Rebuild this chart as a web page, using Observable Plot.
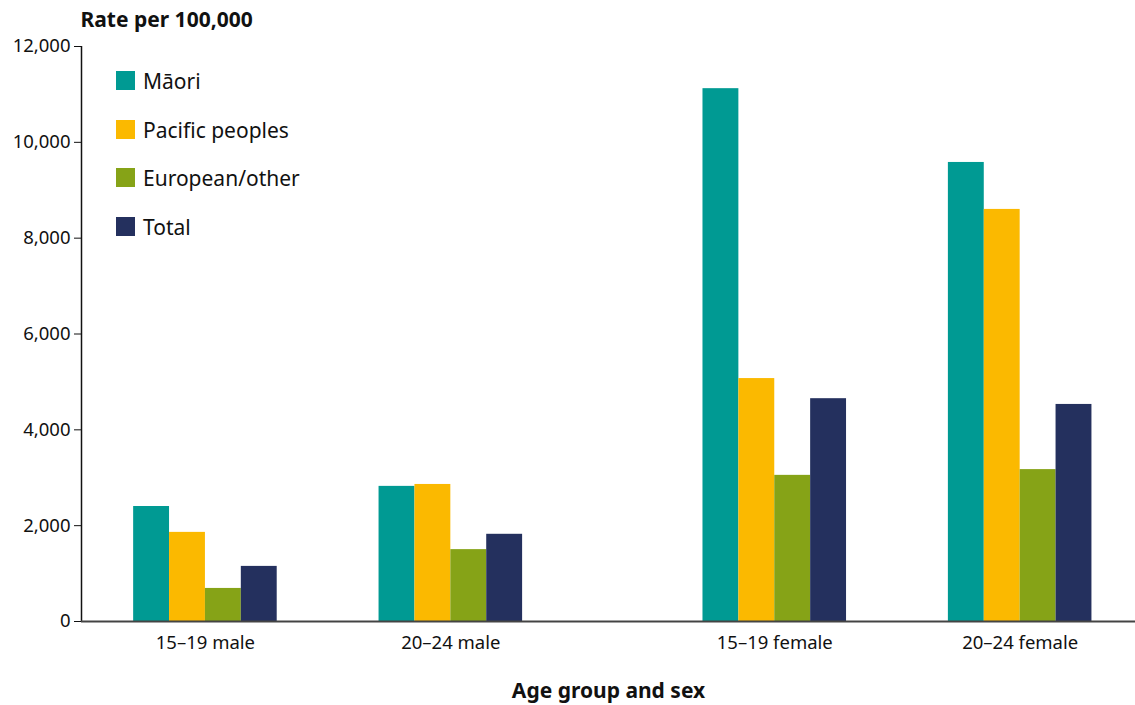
<!DOCTYPE html>
<html>
<head>
<meta charset="utf-8">
<script src="https://cdn.jsdelivr.net/npm/d3@7"></script>
<script src="https://cdn.jsdelivr.net/npm/@observablehq/plot@0.6"></script>
<style>
  html, body { margin: 0; padding: 0; background: #fff; }
  #wrap { position: relative; width: 1135px; height: 705px; font-family: "Noto Sans", sans-serif; color: #111; }
  #legend { position: absolute; left: 116px; top: 71px; font-size: 21px; line-height: 19px; }
  .item { display: flex; align-items: center; height: 19px; margin-bottom: 29.5px; }
  .sw { width: 19px; height: 19px; margin-right: 8px; flex: none; }
  .item span { position: relative; top: 1px; }
</style>
</head>
<body>
<div id="wrap"></div>
<script>
const groups = ["15–19 male", "20–24 male", "15–19 female", "20–24 female"];
const series = ["Māori", "Pacific peoples", "European/other", "Total"];
const maori = [2400, 2820, 11120, 9580];
const pacific = [1860, 2860, 5070, 8600];
const european = [690, 1500, 3050, 3170];
const total = [1150, 1820, 4650, 4530];
const colors = ["#009a93", "#fbb900", "#86a317", "#24305e"];
const yTicks = [0, 2000, 4000, 6000, 8000, 10000, 12000];

const values = [maori, pacific, european, total];
// group positions: extra gap between male and female groups
const groupPos = groups.map((g, i) => i + (g.includes("female") ? 0.32 : 0));
const groupWidth = 0.585;
const barW = groupWidth / series.length;
const rows = [];
groups.forEach((g, i) => {
  series.forEach((s, j) => {
    const x1 = groupPos[i] - groupWidth / 2 + j * barW;
    rows.push({group: g, series: s, value: values[j][i], x1, x2: x1 + barW});
  });
});
const xDomain = [-0.505, 3.79];
const fmt = d3.format(",");

const chart = Plot.plot({
  width: 1135,
  height: 705,
  marginTop: 46,
  marginBottom: 84,
  marginLeft: 81,
  marginRight: 0,
  style: {fontFamily: "Noto Sans, sans-serif", fontSize: "18.5px", color: "#111", background: "#fff"},
  x: {type: "linear", domain: xDomain, axis: null},
  y: {domain: [0, 12000], axis: null},
  color: {domain: series, range: colors},
  marks: [
    Plot.rectY(rows, {x1: "x1", x2: "x2", y: "value", fill: "series"}),
    Plot.ruleX([xDomain[0]], {stroke: "#111", strokeWidth: 1.5}),
    Plot.ruleY([0], {stroke: "#444", strokeWidth: 2}),
    Plot.axisY({ticks: yTicks, tickFormat: fmt, tickSize: 7, tickPadding: 4, label: null, stroke: "#111"}),
    Plot.axisX({ticks: groupPos, tickFormat: (d) => groups[groupPos.indexOf(d)], tickSize: 0, tickPadding: 14, label: null}),
    Plot.text(["Rate per 100,000"], {frameAnchor: "top-left", dx: -1, dy: -34, fontWeight: "bold", fontSize: 21, textAnchor: "start", lineAnchor: "top"}),
    Plot.text(["Age group and sex"], {frameAnchor: "bottom", dy: 76, fontWeight: "bold", fontSize: 21})
  ]
});
const wrap = document.getElementById("wrap");
wrap.appendChild(chart);

const legend = document.createElement("div");
legend.id = "legend";
series.forEach((s, i) => {
  const item = document.createElement("div");
  item.className = "item";
  const sw = document.createElement("div");
  sw.className = "sw";
  sw.style.background = colors[i];
  const t = document.createElement("span");
  t.textContent = s;
  item.appendChild(sw);
  item.appendChild(t);
  legend.appendChild(item);
});
wrap.appendChild(legend);
</script>
</body>
</html>
